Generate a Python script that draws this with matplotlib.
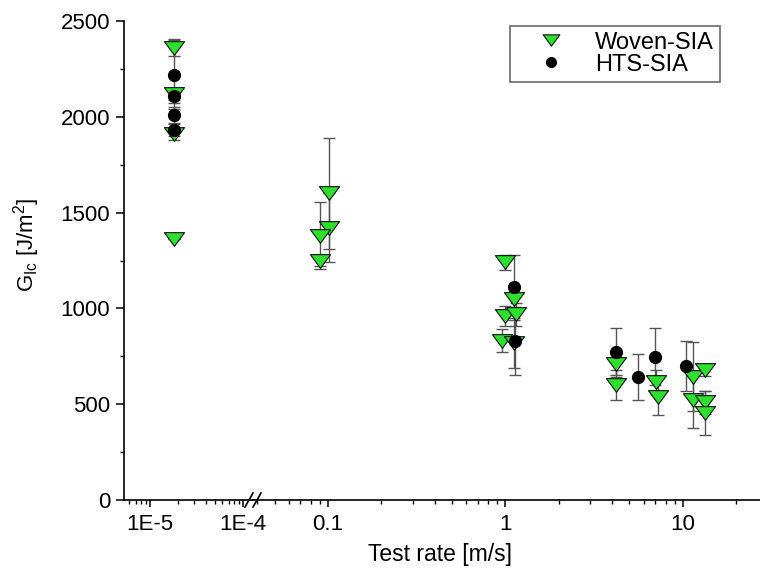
import matplotlib
matplotlib.use("Agg")
import matplotlib.pyplot as plt
from matplotlib.path import Path
from matplotlib.ticker import FixedLocator, FixedFormatter, LogLocator, NullFormatter, MultipleLocator
import numpy as np

plt.rcParams['font.family'] = ['Liberation Sans', 'DejaVu Sans']
plt.rcParams['mathtext.fontset'] = 'custom'
plt.rcParams['mathtext.rm'] = 'Liberation Sans'
plt.rcParams['mathtext.it'] = 'Liberation Sans:italic'

# ---- data ----
woven_x = [1.8e-5, 1.8e-5, 1.8e-5, 1.8e-5,
           0.101, 0.101, 0.090, 0.090,
           1.0, 1.0, 0.96, 1.12, 1.15, 1.12,
           4.2, 4.2, 7.1, 7.2, 11.4, 11.4, 13.3, 13.3, 13.3]
woven_y = [2360, 2120, 1910, 1360,
           1600, 1420, 1380, 1250,
           1240, 960, 830, 1050, 970, 820,
           710, 600, 617, 540, 643, 520, 678, 510, 455]
woven_err = [45, 30, 30, 0,
             290, 180, 175, 30,
             40, 50, 60, 60, 60, 130,
             60, 80, 60, 95, 180, 145, 30, 60, 115]

hts_x = [1.8e-5, 1.8e-5, 1.8e-5, 1.8e-5, 1.12, 1.13, 4.2, 5.6, 7.0, 10.4]
hts_y = [2220, 2110, 2010, 1930, 1110, 830, 770, 640, 748, 700]
hts_err = [180, 40, 40, 30, 170, 178, 130, 120, 150, 130]

left_ticks = [1e-5, 1e-4]
left_labels = ['1E-5', '1E-4']
right_ticks = [0.1, 1, 10]
right_labels = ['0.1', '1', '10']
y_ticks = [0, 500, 1000, 1500, 2000, 2500]

# ---- figure ----
W, H = 760, 576
fig = plt.figure(figsize=(W / 100, H / 100), dpi=100)
x0, xb, x1 = 124, 253, 760
ytop, ybot = 21, 500
axL = fig.add_axes([x0 / W, 1 - ybot / H, (xb - x0) / W, (ybot - ytop) / H])
axR = fig.add_axes([xb / W, 1 - ybot / H, (x1 - xb) / W, (ybot - ytop) / H], sharey=axL)

tri = Path([(-1, 0.68), (1, 0.68), (0, -0.68), (-1, 0.68)],
           [Path.MOVETO, Path.LINETO, Path.LINETO, Path.CLOSEPOLY])
green = '#2ee02e'
TICKFS = 16

wx = np.array(woven_x); wy = np.array(woven_y); we = np.array(woven_err)
hx = np.array(hts_x); hy = np.array(hts_y); he = np.array(hts_err)

for ax, sel_w, sel_h in [(axL, wx < 1e-3, hx < 1e-3), (axR, wx >= 1e-3, hx >= 1e-3)]:
    ax.errorbar(wx[sel_w], wy[sel_w], yerr=we[sel_w], fmt='none', ecolor='#555555',
                elinewidth=1.0, capsize=4.5, capthick=1.0, zorder=2)
    ax.errorbar(hx[sel_h], hy[sel_h], yerr=he[sel_h], fmt='none', ecolor='#555555',
                elinewidth=1.0, capsize=4.5, capthick=1.0, zorder=2)
    ax.plot(wx[sel_w], wy[sel_w], linestyle='none', marker=tri, markersize=14.5,
            markerfacecolor=green, markeredgecolor='#111111', markeredgewidth=0.8, zorder=3)
    ax.plot(hx[sel_h], hy[sel_h], linestyle='none', marker='o', markersize=8.5,
            markerfacecolor='black', markeredgecolor='black', zorder=4)
    ax.set_xscale('log')
    for s in ['top', 'right']:
        ax.spines[s].set_visible(False)
    ax.spines['bottom'].set_linewidth(1.2)
    ax.spines['left'].set_linewidth(1.2)
    ax.xaxis.set_minor_locator(LogLocator(base=10, subs=np.arange(2, 10)))
    ax.xaxis.set_minor_formatter(NullFormatter())
    ax.tick_params(axis='x', which='major', direction='out', length=5, width=1.1,
                   labelsize=TICKFS, pad=5)
    ax.tick_params(axis='x', which='minor', direction='out', length=3, width=1.0)
    ax.patch.set_alpha(0)

axL.set_xlim(5.25e-6, 1.28e-4)
axR.set_xlim(0.0378, 27.2)
axL.xaxis.set_major_locator(FixedLocator(left_ticks))
axL.xaxis.set_major_formatter(FixedFormatter(left_labels))
axR.xaxis.set_major_locator(FixedLocator(right_ticks))
axR.xaxis.set_major_formatter(FixedFormatter(right_labels))

axL.set_ylim(0, 2500)
axL.yaxis.set_major_locator(FixedLocator(y_ticks))
axL.yaxis.set_minor_locator(MultipleLocator(250))
axL.tick_params(axis='y', which='major', direction='out', length=6, width=1.1,
                labelsize=TICKFS, pad=4)
axL.tick_params(axis='y', which='minor', direction='out', length=3, width=1.0)
axR.spines['left'].set_visible(False)
axR.tick_params(axis='y', which='both', left=False, labelleft=False)

fig.text(27 / W, 1 - 245 / H, r'G$_{\mathrm{Ic}}$ [J/m$^2$]', rotation=90,
         ha='center', va='center', fontsize=16)
fig.text(440 / W, 1 - 555 / H, 'Test rate [m/s]', ha='center', va='center', fontsize=16.5)

# break marks
for dx in (-4, 4):
    xs = (xb + dx) / W
    fig.add_artist(plt.Line2D([xs - 4 / W, xs + 4 / W], [1 - (ybot + 7) / H, 1 - (ybot - 7) / H],
                              color='black', lw=1.2, transform=fig.transFigure))

# legend
h1 = plt.Line2D([], [], linestyle='none', marker=tri, markersize=12, markerfacecolor=green,
                markeredgecolor='#111111', markeredgewidth=0.8)
h2 = plt.Line2D([], [], linestyle='none', marker='o', markersize=7, markerfacecolor='black',
                markeredgecolor='black')
leg = axR.legend([h1, h2], ['Woven-SIA', 'HTS-SIA'], loc='upper right',
                 bbox_to_anchor=(0.93, 1.0), fontsize=17, frameon=True, fancybox=False,
                 edgecolor='#444444', handletextpad=0.35, borderpad=0.25, labelspacing=0.0,
                 handlelength=3.0, borderaxespad=0.2)
leg.get_frame().set_linewidth(1.2)

fig.savefig('out.png', dpi=100)
